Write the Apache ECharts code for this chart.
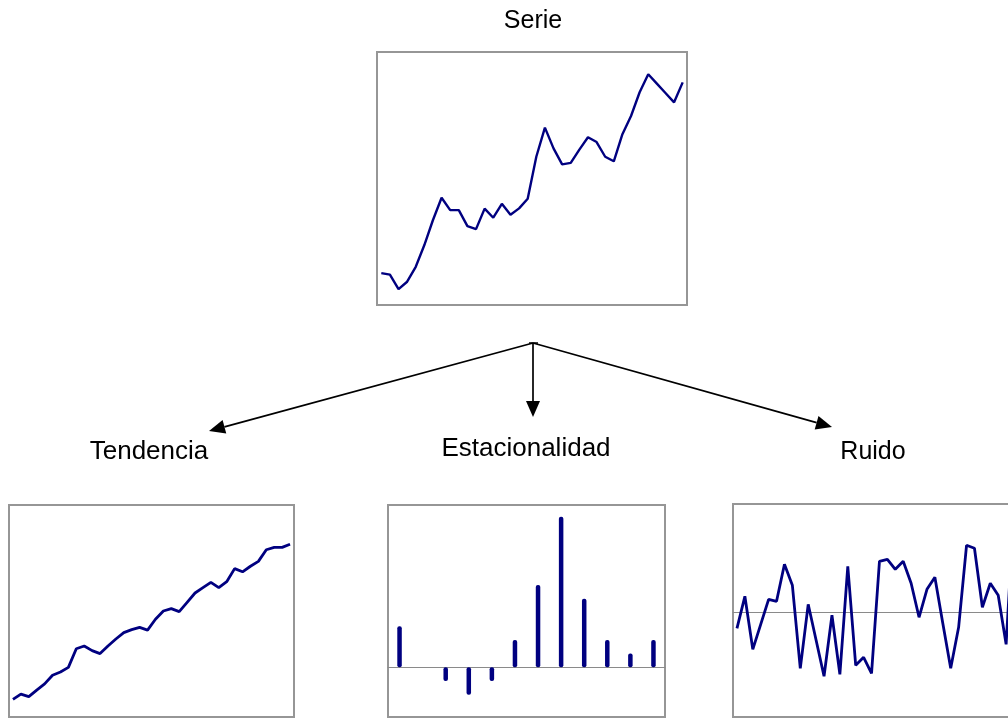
<!DOCTYPE html>
<html>
<head>
<meta charset="utf-8">
<script src="https://cdn.jsdelivr.net/npm/echarts@6/dist/echarts.min.js"></script>
<style>
html,body{margin:0;padding:0;background:#fff;}
#chart{width:1008px;height:719px;}
</style>
</head>
<body>
<div id="chart"></div>
<script>
// ---- Data ----
const periodos = ['1','2','3','4','5','6','7','8','9','10','11','12',
  '13','14','15','16','17','18','19','20','21','22','23','24',
  '25','26','27','28','29','30','31','32','33','34','35','36'];
const meses = ['Ene','Feb','Mar','Abr','May','Jun','Jul','Ago','Sep','Oct','Nov','Dic'];

const serieValues = [12.6, 12.0, 6.3, 9.2, 15.1, 23.7, 33.6, 42.4, 37.5, 37.5, 31.2, 30.0,
  38.1, 34.5, 40.0, 35.7, 38.2, 42.0, 58.6, 70.1, 61.9, 55.6, 56.2, 61.4,
  66.3, 64.4, 58.6, 56.8, 67.5, 74.7, 84.1, 91.2, 87.5, 83.8, 80.1, 88.0];

const tendenciaValues = [8.3, 10.8, 9.6, 12.7, 15.6, 19.7, 21.2, 23.4, 32.2, 33.5, 31.3, 29.9,
  33.5, 36.8, 39.8, 41.2, 42.3, 41.0, 46.1, 50.0, 51.1, 49.7, 54.1, 58.5,
  61.0, 63.5, 61.0, 63.8, 70.0, 68.5, 71.1, 73.4, 78.9, 80.0, 80.0, 81.5];

const estacionalidadValues = [3, 0, -1, -2, -1, 2, 6, 11, 5, 2, 1, 2];

const ruidoValues = [-1.6, 1.6, -3.7, -1.2, 1.3, 1.1, 4.8, 2.7, -5.6, 0.8, -2.8, -6.4,
  -0.3, -6.2, 4.6, -5.3, -4.5, -6.1, 5.1, 5.3, 4.3, 5.1, 2.9, -0.5,
  2.3, 3.5, -1.1, -5.6, -1.5, 6.7, 6.4, 0.5, 2.9, 1.7, -3.2, 10.5];

const titulos = ['Serie', 'Tendencia', 'Estacionalidad', 'Ruido'];

// ---- Styles ----
const NAVY = '#000080';
const FRAME = '#969696';
const ZERO = '#8a8a8a';
const FONT = '"Liberation Sans", Arial, sans-serif';

const grids = [
  {left: 377, top: 52, width: 310, height: 253},
  {left: 9, top: 505, width: 285, height: 212},
  {left: 388, top: 505, width: 277, height: 212},
  {left: 733, top: 504, width: 285, height: 213}
];
const yRanges = [
  {min: 0, max: 100},
  {min: 0, max: 100},
  {min: -3.63, max: 11.85},
  {min: -10.47, max: 10.83}
];
const showZero = [false, false, true, true];
const cats = [periodos, periodos, meses, periodos];

const chart = echarts.init(document.getElementById('chart'), null, {renderer: 'canvas'});

function arrow(x1, y1, x2, y2) {
  const ang = Math.atan2(y2 - y1, x2 - x1);
  const L = 16, W = 7;
  const bx = x2 - L * Math.cos(ang), by = y2 - L * Math.sin(ang);
  const px = -Math.sin(ang) * W, py = Math.cos(ang) * W;
  return [
    {type: 'line', shape: {x1: x1, y1: y1, x2: bx, y2: by},
     style: {stroke: '#000', lineWidth: 1.7}, silent: true},
    {type: 'polygon', shape: {points: [[x2, y2], [bx + px, by + py], [bx - px, by - py]]},
     style: {fill: '#000'}, silent: true}
  ];
}

const apex = [533, 343];
const graphics = [].concat(
  arrow(apex[0], apex[1], 209, 431),
  arrow(apex[0], apex[1], 533, 417),
  arrow(apex[0], apex[1], 832, 427),
  [{type: 'line', shape: {x1: 529, y1: 343, x2: 538, y2: 343}, style: {stroke: '#000', lineWidth: 1.5}, silent: true}],
  [
    {type: 'text', x: 533, y: 21, style: {text: titulos[0], font: '25px ' + FONT, fill: '#000', textAlign: 'center', textVerticalAlign: 'middle'}},
    {type: 'text', x: 149, y: 452, style: {text: titulos[1], font: '26px ' + FONT, fill: '#000', textAlign: 'center', textVerticalAlign: 'middle'}},
    {type: 'text', x: 526, y: 449, style: {text: titulos[2], font: '26px ' + FONT, fill: '#000', textAlign: 'center', textVerticalAlign: 'middle'}},
    {type: 'text', x: 873, y: 452, style: {text: titulos[3], font: '25px ' + FONT, fill: '#000', textAlign: 'center', textVerticalAlign: 'middle'}}
  ]
);

const option = {
  animation: false,
  backgroundColor: '#fff',
  grid: grids.map(g => Object.assign({show: true, borderColor: FRAME, borderWidth: 2, backgroundColor: '#fff',
    containLabel: false, outerBoundsMode: 'none'}, g)),
  xAxis: grids.map((g, i) => ({
    type: 'category', gridIndex: i, data: cats[i], boundaryGap: true,
    axisLine: {show: showZero[i], onZero: true, lineStyle: {color: ZERO, width: 1}},
    axisTick: {show: false}, axisLabel: {show: false}, splitLine: {show: false}
  })),
  yAxis: grids.map((g, i) => ({
    type: 'value', gridIndex: i, min: yRanges[i].min, max: yRanges[i].max,
    axisLine: {show: false}, axisTick: {show: false}, axisLabel: {show: false}, splitLine: {show: false}
  })),
  series: [
    {type: 'line', xAxisIndex: 0, yAxisIndex: 0, data: serieValues, symbol: 'none',
     lineStyle: {color: NAVY, width: 2.4}},
    {type: 'line', xAxisIndex: 1, yAxisIndex: 1, data: tendenciaValues, symbol: 'none',
     lineStyle: {color: NAVY, width: 2.8}},
    {type: 'bar', xAxisIndex: 2, yAxisIndex: 2, data: estacionalidadValues, barWidth: 4.5,
     itemStyle: {color: NAVY, borderRadius: 2}},
    {type: 'line', xAxisIndex: 3, yAxisIndex: 3, data: ruidoValues, symbol: 'none',
     lineStyle: {color: NAVY, width: 2.8}}
  ],
  graphic: graphics
};
chart.setOption(option);
</script>
</body>
</html>
